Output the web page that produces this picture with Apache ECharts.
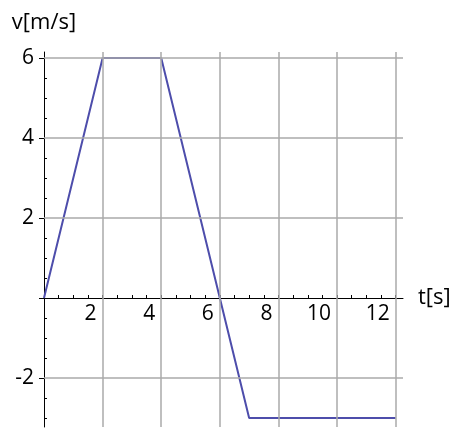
<!DOCTYPE html>
<html>
<head>
<meta charset="utf-8">
<script src="https://cdn.jsdelivr.net/npm/echarts@6/dist/echarts.min.js"></script>
<style>
  html, body { margin: 0; padding: 0; background: #fff; }
  #chart { width: 455px; height: 428px; }
</style>
</head>
<body>
<div id="chart"></div>
<script>
// 数据：速度-时间折线
const tValues = [0, 2, 4, 7, 12];
const vValues = [0, 6, 6, -3, -3];

// 刻度
const xLabels = [2, 4, 6, 8, 10, 12];
const xMinorTicks = [0.5, 1, 1.5, 2, 2.5, 3, 3.5, 4, 4.5, 5, 5.5, 6, 6.5, 7, 7.5, 8, 8.5, 9, 9.5, 10, 10.5, 11, 11.5, 12];
const yLabels = [-2, 2, 4, 6];
const yMajorTicks = [-2, 0, 2, 4, 6];
const yMinorTicks = [-3, -2.5, -1.5, -1, -0.5, 0.5, 1, 1.5, 2.5, 3, 3.5, 4.5, 5, 5.5];

// 网格线
const xGrid = [2, 4, 6, 8, 10, 12];
const yGrid = [-2, 2, 4, 6];

const yMin = -3.225, yMax = 6.15;
const font = '"Open Sans", sans-serif';

const chart = echarts.init(document.getElementById('chart'));

const gridTop = 52, gridBottom = 1;
const plotH = 428 - gridTop - gridBottom;
// x轴放在 v=0 处（从底边往上挪）
const xAxisOffset = -plotH * (0 - yMin) / (yMax - yMin);

const gridLines = [];
xGrid.forEach(v => gridLines.push({ xAxis: v }));
yGrid.forEach(v => gridLines.push({ yAxis: v }));

const option = {
  animation: false,
  grid: { left: 44, right: 52, top: gridTop, bottom: gridBottom, outerBoundsMode: 'none', containLabel: false },
  xAxis: {
    type: 'value',
    min: 0,
    max: 12.25,
    position: 'bottom',
    offset: xAxisOffset,
    name: 't[s]',
    nameLocation: 'end',
    nameGap: 15,
    nameTextStyle: { color: '#000', fontSize: 22, fontFamily: font, padding: [8, 0, 0, 0] },
    axisLine: { onZero: false, lineStyle: { color: '#000', width: 1 } },
    axisTick: { show: true, inside: true, length: 3, customValues: xMinorTicks, lineStyle: { color: '#000' } },
    axisLabel: {
      customValues: xLabels,
      color: '#000',
      fontSize: 21,
      fontFamily: font,
      align: 'right',
      padding: [0, 6, 0, 0],
      margin: 6
    },
    splitLine: { show: false }
  },
  yAxis: [{
    type: 'value',
    min: yMin,
    max: yMax,
    name: 'v[m/s]',
    nameLocation: 'end',
    nameGap: 18,
    nameTextStyle: { color: '#000', fontSize: 22, fontFamily: font },
    axisLine: { show: true, onZero: false, lineStyle: { color: '#000', width: 1 } },
    axisTick: { show: true, inside: false, length: 5, customValues: yMajorTicks, lineStyle: { color: '#000' } },
    axisLabel: {
      customValues: yLabels,
      color: '#000',
      fontSize: 21,
      fontFamily: font,
      margin: 10
    },
    splitLine: { show: false }
  }, {
    type: 'value',
    min: yMin,
    max: yMax,
    position: 'left',
    axisLine: { show: false, onZero: false },
    axisTick: { show: true, inside: true, length: 3, customValues: yMinorTicks, lineStyle: { color: '#000' } },
    axisLabel: { show: false },
    splitLine: { show: false }
  }],
  series: [{
    // 网格线
    type: 'line',
    data: [],
    z: 1,
    silent: true,
    markLine: {
      silent: true,
      symbol: 'none',
      label: { show: false },
      lineStyle: { color: '#aaaaaa', width: 1.5, type: 'solid' },
      data: gridLines
    }
  }, {
    type: 'line',
    z: 3,
    data: tValues.map((t, i) => [t, vValues[i]]),
    showSymbol: false,
    lineStyle: { color: '#4d4dab', width: 2 },
    silent: true
  }]
};

chart.setOption(option);
</script>
</body>
</html>
